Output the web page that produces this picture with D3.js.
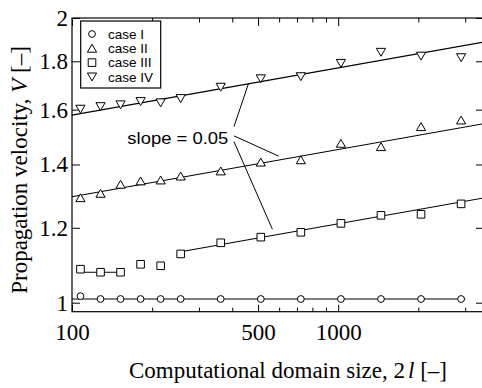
<!DOCTYPE html>
<html>
<head>
<meta charset="utf-8">
<script src="https://cdn.jsdelivr.net/npm/d3@7.9.0/dist/d3.min.js"></script>
<style>
  html, body { margin: 0; padding: 0; background: #fff; }
  svg { display: block; }
  .serif { font-family: "Liberation Serif", "Times New Roman", serif; }
  .sans { font-family: "Liberation Sans", Arial, sans-serif; }
</style>
</head>
<body>
<svg id="chart" width="482" height="388"></svg>
<script>
// --- data
const sizes   = [107.6, 128, 152.2, 181, 215.3, 256, 362, 512, 724, 1024, 1448, 2048, 2896];
const caseI   = [1.016, 1.009, 1.009, 1.009, 1.009, 1.009, 1.009, 1.009, 1.009, 1.009, 1.009, 1.009, 1.009];
const caseII  = [1.291, 1.305, 1.334, 1.345, 1.348, 1.361, 1.378, 1.408, 1.416, 1.474, 1.462, 1.535, 1.560];
const caseIII = [1.085, 1.077, 1.077, 1.098, 1.094, 1.126, 1.157, 1.173, 1.187, 1.213, 1.237, 1.240, 1.272];
const caseIV  = [1.602, 1.612, 1.619, 1.632, 1.627, 1.644, 1.690, 1.725, 1.734, 1.791, 1.840, 1.823, 1.816];
const seriesNames = ['case I', 'case II', 'case III', 'case IV'];
const seriesShapes = ['circle', 'triUp', 'square', 'triDown'];

// fitted power laws V = coef * (2l)^slope, drawn between from..to
const fitCoef  = [1.009, 1.028, 1.077, 0.858, 1.254];
const fitSlope = [0, 0.05, 0, 0.05, 0.05];
const fitFrom  = [100, 100, 107.6, 256, 100];
const fitTo    = [3000, 3500, 152.2, 3500, 3500];

const xMajor = [100, 500, 1000];
const xMinor = [200, 300, 400, 600, 700, 800, 900, 2000, 3000];
const yTicks = [1, 1.2, 1.4, 1.6, 1.8, 2];

// annotation leader lines [x0, y0, x1, y1] in data units
const slopeLabel = 'slope = 0.05';
const leaders = [
  [406, 1.535, 460, 1.704],
  [406, 1.501, 597, 1.429],
  [406, 1.480, 566, 1.196]
];

// --- layout
const svg = d3.select('#chart');
const mLeft = 72, mRight = 483, mTop = 18, mBottom = 311.7;

const x = d3.scaleLog().domain([100, 3500]).range([mLeft, mRight]);
const y = d3.scaleLog().domain([0.9783, 2]).range([mBottom, mTop]);

// frame
svg.append('rect')
  .attr('x', mLeft).attr('y', mTop)
  .attr('width', mRight - mLeft).attr('height', mBottom - mTop)
  .attr('fill', 'none').attr('stroke', '#000').attr('stroke-width', 1.2);

function styleAxis(g) {
  g.select('.domain').remove();
  g.selectAll('line').attr('stroke', '#000').attr('stroke-width', 1);
  g.selectAll('text').attr('fill', '#000');
}

// x axes (bottom + top, ticks inward)
svg.append('g').attr('class', 'serif')
  .attr('transform', `translate(0,${mBottom})`)
  .call(d3.axisBottom(x).tickValues(xMajor).tickSize(-7).tickPadding(12).tickFormat(d3.format('d')))
  .call(styleAxis)
  .selectAll('text').attr('font-size', 23);
svg.append('g')
  .attr('transform', `translate(0,${mBottom})`)
  .call(d3.axisBottom(x).tickValues(xMinor).tickSize(-4).tickFormat(''))
  .call(styleAxis);
svg.append('g')
  .attr('transform', `translate(0,${mTop})`)
  .call(d3.axisTop(x).tickValues(xMajor).tickSize(-8).tickFormat(''))
  .call(styleAxis);
svg.append('g')
  .attr('transform', `translate(0,${mTop})`)
  .call(d3.axisTop(x).tickValues(xMinor).tickSize(-4.5).tickFormat(''))
  .call(styleAxis);

// y axes
svg.append('g').attr('class', 'serif')
  .attr('transform', `translate(${mLeft},0)`)
  .call(d3.axisLeft(y).tickValues(yTicks).tickSize(-8).tickPadding(4).tickFormat(d => String(d)))
  .call(styleAxis)
  .selectAll('text').attr('font-size', 23);
svg.append('g')
  .attr('transform', `translate(${mRight},0)`)
  .call(d3.axisRight(y).tickValues(yTicks).tickSize(-7).tickFormat(''))
  .call(styleAxis);

// axis titles
const xt = svg.append('text').attr('class', 'serif')
  .attr('x', (129 + 447) / 2).attr('y', 378)
  .attr('text-anchor', 'middle').attr('font-size', 23);
xt.append('tspan').text('Computational domain size, 2');
xt.append('tspan').attr('font-style', 'italic').attr('dx', 3).text('l');
xt.append('tspan').text(' [\u2013]');

const yt = svg.append('text').attr('class', 'serif')
  .attr('transform', 'translate(27,170) rotate(-90)')
  .attr('text-anchor', 'middle').attr('font-size', 23);
yt.append('tspan').text('Propagation velocity, ');
yt.append('tspan').attr('font-style', 'italic').text('V');
yt.append('tspan').text(' [\u2013]');

// fit lines
const line = d3.line().x(d => x(d[0])).y(d => y(d[1]));
fitCoef.forEach((c, i) => {
  const pts = [fitFrom[i], fitTo[i]].map(v => [v, c * Math.pow(v, fitSlope[i])]);
  svg.append('path').attr('d', line(pts))
    .attr('fill', 'none').attr('stroke', '#000').attr('stroke-width', 1.1);
});

// markers
function markerPath(shape) {
  if (shape === 'circle') return d3.arc()({ innerRadius: 0, outerRadius: 3.4, startAngle: 0, endAngle: 2 * Math.PI });
  if (shape === 'square') return 'M-3.8,-3.8H3.8V3.8H-3.8Z';
  if (shape === 'triUp') return 'M0,-4L4.6,3.9H-4.6Z';
  return 'M0,4L4.6,-3.9H-4.6Z';
}
const allSeries = [caseI, caseII, caseIII, caseIV];
allSeries.forEach((vals, si) => {
  svg.append('g').selectAll('path')
    .data(vals)
    .join('path')
    .attr('transform', (d, i) => `translate(${x(sizes[i])},${y(d)})`)
    .attr('d', markerPath(seriesShapes[si]))
    .attr('fill', '#fff').attr('stroke', '#000').attr('stroke-width', 1);
});

// legend
const lg = svg.append('g');
lg.append('rect').attr('x', 80.7).attr('y', 21).attr('width', 80).attr('height', 67)
  .attr('fill', '#fff').attr('stroke', '#000').attr('stroke-width', 1.2);
seriesNames.forEach((name, i) => {
  const cy = 34 + i * 14.3;
  lg.append('path').attr('transform', `translate(92,${cy})`)
    .attr('d', markerPath(seriesShapes[i]))
    .attr('fill', '#fff').attr('stroke', '#000').attr('stroke-width', 1);
  lg.append('text').attr('class', 'sans')
    .attr('x', 108).attr('y', cy).attr('dy', '0.36em')
    .attr('font-size', 13.5).text(name);
});

// slope annotation
svg.append('text').attr('class', 'sans')
  .attr('x', x(161.4)).attr('y', y(1.472))
  .attr('font-size', 17).attr('textLength', 101).attr('lengthAdjust', 'spacingAndGlyphs')
  .text(slopeLabel);
leaders.forEach(l => {
  svg.append('line')
    .attr('x1', x(l[0])).attr('y1', y(l[1]))
    .attr('x2', x(l[2])).attr('y2', y(l[3]))
    .attr('stroke', '#000').attr('stroke-width', 1);
});
</script>
</body>
</html>
